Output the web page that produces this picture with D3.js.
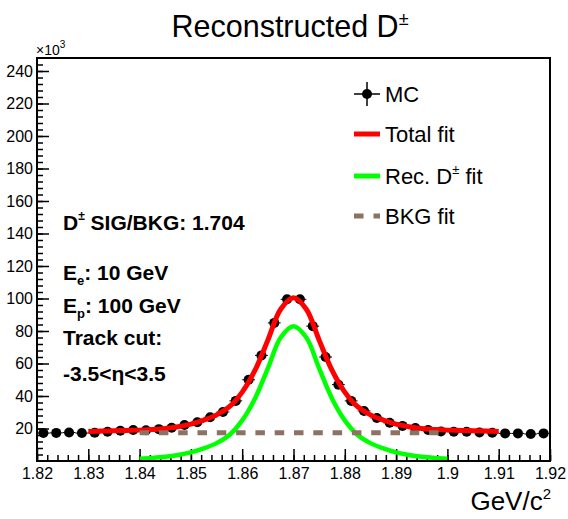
<!DOCTYPE html>
<html>
<head>
<meta charset="utf-8">
<script src="https://cdn.jsdelivr.net/npm/d3@7"></script>
<style>
  body { margin: 0; background: #fff; }
  svg text { font-family: "Liberation Sans", Arial, Helvetica, sans-serif; }
</style>
</head>
<body>
<div id="chart"></div>
<script>
// MC histogram (x10^3 counts per bin)
var mcMass = [1.82125,1.82375,1.82625,1.82875,1.83125,1.83375,1.83625,1.83875,1.84125,1.84375,
              1.84625,1.84875,1.85125,1.85375,1.85625,1.85875,1.86125,1.86375,1.86625,1.86875,
              1.87125,1.87375,1.87625,1.87875,1.88125,1.88375,1.88625,1.88875,1.89125,1.89375,
              1.89625,1.89875,1.90125,1.90375,1.90625,1.90875,1.91125,1.91375,1.91625,1.91875];
var mcCounts = [17.2,17.3,17.5,17.2,17.4,18.0,18.6,19.1,18.9,19.6,
                20.5,22.1,23.8,26.9,30.2,37.0,50.0,65.0,85.0,99.5,
                99.5,83.0,64.0,47.0,37.0,30.8,26.5,23.5,21.6,20.3,
                19.1,18.2,18.0,18.0,17.5,17.4,17.0,17.0,16.6,17.0];
var binWidth = 0.0025;

// total fit
var totalMass = [1.8300,1.8325,1.8350,1.8375,1.8400,1.8425,1.8450,1.8475,1.8500,1.8525,1.8550,
                 1.8575,1.8600,1.8625,1.8650,1.8675,1.8700,1.8725,1.8750,1.8775,1.8800,1.8825,
                 1.8850,1.8875,1.8900,1.8925,1.8950,1.8975,1.9000,1.9025,1.9050,1.9075,1.9100];
var totalFit = [18.2,18.4,18.6,18.8,19.0,19.4,20.0,21.1,22.7,25.1,28.4,
                33.4,42.4,55.9,74.4,93.4,100.4,93.4,74.4,55.9,42.4,33.4,
                28.4,25.1,22.7,21.1,20.0,19.4,19.0,18.8,18.6,18.4,18.2];

// signal (rec. D+-) fit
var sigMass = [1.8400,1.8425,1.8450,1.8475,1.8500,1.8525,1.8550,1.8575,1.8600,1.8625,1.8650,1.8675,
               1.8700,1.8725,1.8750,1.8775,1.8800,1.8825,1.8850,1.8875,1.8900,1.8925,1.8950,1.8975,1.9000];
var sigFit = [1.4,1.9,2.6,3.7,5.3,7.7,11.0,16.0,25.0,38.5,57.0,76.0,
              83.0,76.0,57.0,38.5,25.0,16.0,11.0,7.7,5.3,3.7,2.6,1.9,1.4];

// background fit
var bkgMass = [1.84, 1.90];
var bkgFit = [17.4, 17.4];

var xTicks = [1.82,1.83,1.84,1.85,1.86,1.87,1.88,1.89,1.90,1.91,1.92];
var yTicks = [20,40,60,80,100,120,140,160,180,200,220,240];

var legendLabels = ["MC", "Total fit", "Rec. D", "BKG fit"];
var noteLines = ["SIG/BKG: 1.704", ": 10 GeV", ": 100 GeV", "Track cut:", "-3.5<\u03b7<3.5"];

var width = 568, height = 519;
var plotL = 37, plotR = 550, plotT = 58, plotB = 461;

var svg = d3.select("#chart").append("svg")
  .attr("width", width)
  .attr("height", height);

var x = d3.scaleLinear().domain([1.82, 1.92]).range([plotL, plotR]);
var y = d3.scaleLinear().domain([0, 248]).range([plotB, plotT]);

// title
var title = svg.append("text")
  .attr("x", 290).attr("y", 37)
  .attr("text-anchor", "middle")
  .style("font-size", "30.5px")
  .text("Reconstructed D");
title.append("tspan").attr("dy", -12).style("font-size", "18px").text("\u00b1");

// x axis ticks (inward)
var xMinor = d3.range(1.82, 1.9201, 0.002);
svg.append("g")
  .attr("transform", "translate(0," + plotB + ")")
  .call(d3.axisBottom(x).tickValues(xMinor).tickSize(-6).tickFormat(""))
  .call(function(g) { g.select(".domain").remove(); })
  .selectAll("line").attr("stroke-width", 1.5);

svg.append("g")
  .attr("transform", "translate(0," + plotB + ")")
  .call(d3.axisBottom(x).tickValues(xTicks).tickSize(-12).tickPadding(7)
        .tickFormat(function(d) { return String(+d.toFixed(2)); }))
  .call(function(g) { g.select(".domain").remove(); })
  .call(function(g) {
    g.selectAll("line").attr("stroke-width", 1.5);
    g.selectAll("text").style("font-size", "16px").attr("fill", "#000");
  });

// y axis ticks (inward)
var yMinor = d3.range(4, 248, 4);
svg.append("g")
  .attr("transform", "translate(" + plotL + ",0)")
  .call(d3.axisLeft(y).tickValues(yMinor).tickSize(-6).tickFormat(""))
  .call(function(g) { g.select(".domain").remove(); })
  .selectAll("line").attr("stroke-width", 1.5);

svg.append("g")
  .attr("transform", "translate(" + plotL + ",0)")
  .call(d3.axisLeft(y).tickValues(yTicks).tickSize(-12).tickPadding(4))
  .call(function(g) { g.select(".domain").remove(); })
  .call(function(g) {
    g.selectAll("line").attr("stroke-width", 1.5);
    g.selectAll("text").style("font-size", "16px").attr("fill", "#000");
  });

// x10^3
var expo = svg.append("text").attr("x", 36).attr("y", 55).style("font-size", "14px").text("\u00d710");
expo.append("tspan").attr("dy", -7).style("font-size", "10px").text("3");

// axis title
var xt = svg.append("text").attr("x", 551).attr("y", 510)
  .attr("text-anchor", "end").style("font-size", "26px").text("GeV/c");
xt.append("tspan").attr("dy", -11).style("font-size", "15px").text("2");

// MC points
var pts = mcMass.map(function(m, i) { return {m: m, v: mcCounts[i]}; });
svg.selectAll(".xerr").data(pts).enter().append("line")
  .attr("x1", function(d) { return x(d.m - binWidth / 2); })
  .attr("x2", function(d) { return x(d.m + binWidth / 2); })
  .attr("y1", function(d) { return y(d.v); })
  .attr("y2", function(d) { return y(d.v); })
  .attr("stroke", "#000").attr("stroke-width", 1);
svg.selectAll(".pt").data(pts).enter().append("circle")
  .attr("cx", function(d) { return x(d.m); })
  .attr("cy", function(d) { return y(d.v); })
  .attr("r", 5)
  .attr("fill", "#000");

// fits
var line = d3.line()
  .x(function(d) { return x(d[0]); })
  .y(function(d) { return y(d[1]); })
  .curve(d3.curveCatmullRom);

svg.append("path")
  .datum(d3.zip(totalMass, totalFit))
  .attr("d", line)
  .attr("fill", "none").attr("stroke", "#ff0000").attr("stroke-width", 5);

svg.append("path")
  .datum(d3.zip(sigMass, sigFit))
  .attr("d", line)
  .attr("fill", "none").attr("stroke", "#00ff00").attr("stroke-width", 4.5);

svg.append("path")
  .datum(d3.zip(bkgMass, bkgFit))
  .attr("d", d3.line().x(function(d) { return x(d[0]); }).y(function(d) { return y(d[1]); }))
  .attr("fill", "none").attr("stroke", "#8c7262").attr("stroke-width", 5)
  .attr("stroke-dasharray", "9.5,9.8");

// frame
svg.append("rect")
  .attr("x", plotL).attr("y", plotT)
  .attr("width", plotR - plotL).attr("height", plotB - plotT)
  .attr("fill", "none").attr("stroke", "#000").attr("stroke-width", 2);

// legend
var lg = svg.append("g");
lg.append("line").attr("x1", 354).attr("x2", 380).attr("y1", 94).attr("y2", 94).attr("stroke", "#000").attr("stroke-width", 1.5);
lg.append("line").attr("x1", 367).attr("x2", 367).attr("y1", 82).attr("y2", 106).attr("stroke", "#000").attr("stroke-width", 1.5);
lg.append("circle").attr("cx", 367).attr("cy", 94).attr("r", 5).attr("fill", "#000");
lg.append("line").attr("x1", 354).attr("x2", 380).attr("y1", 134).attr("y2", 134).attr("stroke", "#ff0000").attr("stroke-width", 5);
lg.append("line").attr("x1", 354).attr("x2", 380).attr("y1", 176).attr("y2", 176).attr("stroke", "#00ff00").attr("stroke-width", 5);
lg.append("line").attr("x1", 354).attr("x2", 380).attr("y1", 216).attr("y2", 216).attr("stroke", "#8c7262").attr("stroke-width", 5).attr("stroke-dasharray", "9.5,10");

var legY = [102, 142, 184, 224];
legendLabels.forEach(function(t, i) {
  var tx = lg.append("text").attr("x", 385).attr("y", legY[i]).style("font-size", "22px").text(t);
  if (i === 2) {
    tx.append("tspan").attr("dy", -10).style("font-size", "13px").text("\u00b1");
    tx.append("tspan").attr("dy", 10).text(" fit");
  }
});

// notes
var nt = svg.append("g").style("font-weight", "bold").style("font-size", "21px");
var n0 = nt.append("text").attr("x", 63).attr("y", 230).text("D");
n0.append("tspan").attr("dy", -10).style("font-size", "12px").text("\u00b1");
n0.append("tspan").attr("dy", 10).text(" " + noteLines[0]);
var n1 = nt.append("text").attr("x", 63).attr("y", 280).text("E");
n1.append("tspan").attr("dy", 5).style("font-size", "13px").text("e");
n1.append("tspan").attr("dy", -5).text(noteLines[1]);
var n2 = nt.append("text").attr("x", 63).attr("y", 313).text("E");
n2.append("tspan").attr("dy", 5).style("font-size", "13px").text("p");
n2.append("tspan").attr("dy", -5).text(noteLines[2]);
nt.append("text").attr("x", 63).attr("y", 345).text(noteLines[3]);
nt.append("text").attr("x", 63).attr("y", 381).text(noteLines[4]);
</script>
</body>
</html>
